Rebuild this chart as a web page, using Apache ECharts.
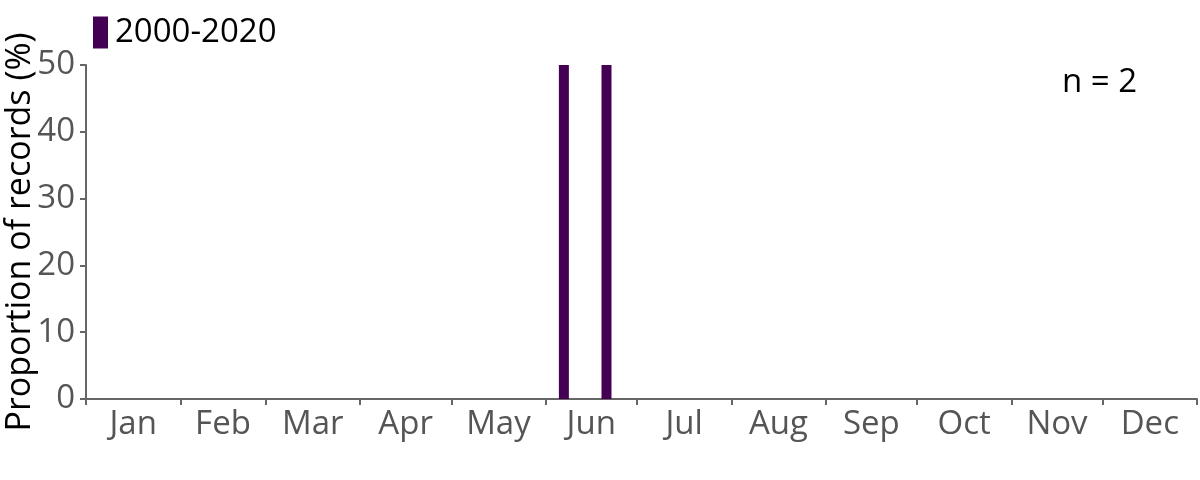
<!DOCTYPE html>
<html>
<head>
<meta charset="utf-8">
<script src="https://cdn.jsdelivr.net/npm/echarts@6/dist/echarts.min.js"></script>
<style>
  html, body { margin: 0; padding: 0; background: #fff; }
  #chart { width: 1200px; height: 480px; }
</style>
</head>
<body>
<div id="chart"></div>
<script>
// month names and day-of-year where each month begins (365 day year)
const months = ['Jan', 'Feb', 'Mar', 'Apr', 'May', 'Jun', 'Jul', 'Aug', 'Sep', 'Oct', 'Nov', 'Dec'];
const monthStarts = [0, 31, 59, 90, 120, 151, 181, 212, 243, 273, 304, 334, 365];
// weekly bins that have records (day of year of bin centre) and their share
const binDays = [157, 171];
const proportions = [50, 50];
const seriesName = '2000-2020';
const sampleSize = 2;

const monthMids = months.map((m, i) => (monthStarts[i] + monthStarts[i + 1]) / 2);
const font = 'Open Sans';
const axisGrey = '#666';

const chart = echarts.init(document.getElementById('chart'));
chart.setOption({
  animation: false,
  grid: { left: 86, right: 3, top: 65, bottom: 81, outerBoundsMode: 'none', containLabel: false },
  legend: {
    left: 88, top: 11,
    itemWidth: 15, itemHeight: 32,
    itemGap: 10,
    icon: 'rect',
    textStyle: { fontFamily: font, fontSize: 33, color: '#000', padding: [0, 0, 0, 2] },
    data: [seriesName]
  },
  xAxis: {
    type: 'value', min: 0, max: 365,
    splitLine: { show: false },
    axisLine: { lineStyle: { color: axisGrey, width: 2 } },
    axisTick: { show: true, length: 6, lineStyle: { color: axisGrey, width: 2 }, customValues: monthStarts },
    axisLabel: {
      customValues: monthMids,
      margin: 9,
      fontFamily: font, fontSize: 33, color: '#555',
      formatter: v => months[monthMids.indexOf(v)]
    }
  },
  yAxis: {
    type: 'value', min: 0, max: 50, interval: 10,
    name: 'Proportion of records (%)',
    nameLocation: 'middle', nameGap: 49,
    nameMoveOverlap: false,
    nameTextStyle: { fontFamily: font, fontSize: 34, color: '#000' },
    splitLine: { show: false },
    axisLine: { show: true, lineStyle: { color: axisGrey, width: 2 } },
    axisTick: { show: true, length: 6, lineStyle: { color: axisGrey, width: 2 } },
    axisLabel: { margin: 11, fontFamily: font, fontSize: 33, color: '#555' }
  },
  graphic: [{
    type: 'text', right: 63, top: 66,
    style: { text: 'n = ' + sampleSize, fontFamily: font, fontSize: 33, fill: '#000' }
  }],
  series: [{
    name: seriesName,
    type: 'bar',
    barWidth: 10,
    itemStyle: { color: '#440154' },
    data: binDays.map((d, i) => [d, proportions[i]])
  }]
});
</script>
</body>
</html>
